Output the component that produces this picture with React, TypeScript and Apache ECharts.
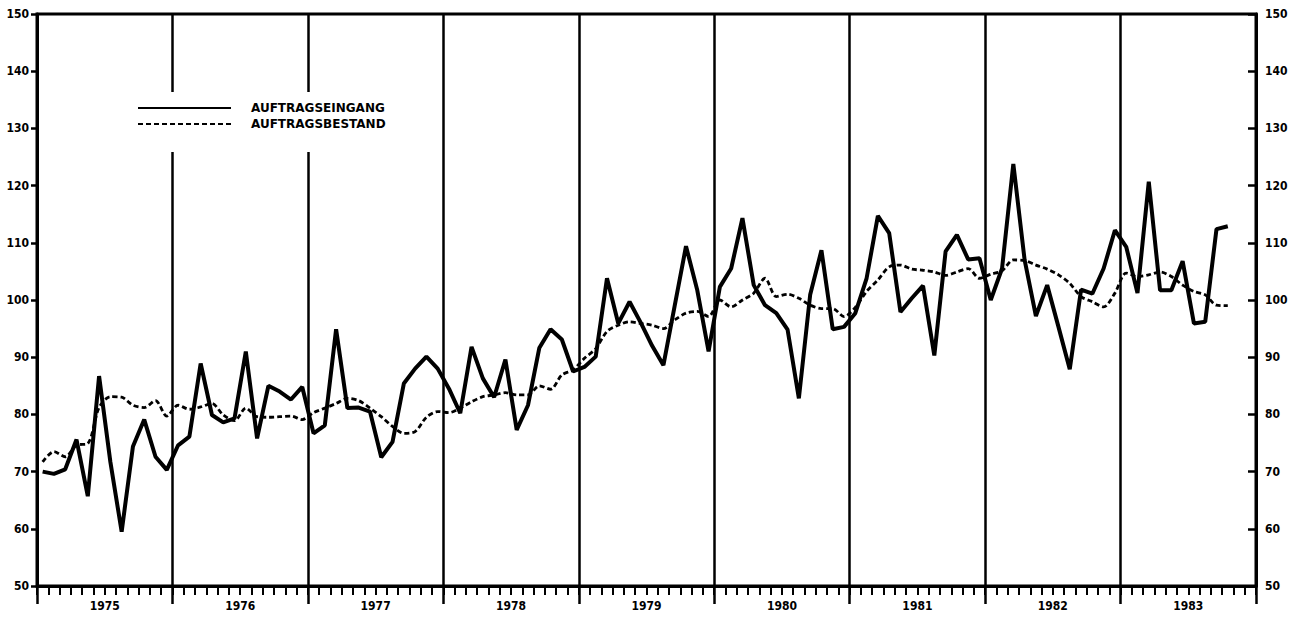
import { useEffect, useRef } from "react";
import * as echarts from "echarts";

const years = ["1975", "1976", "1977", "1978", "1979", "1980", "1981", "1982", "1983"];
const monthsPerYear = 12;
const yMin = 50;
const yMax = 150;
const yStep = 10;

// AUFTRAGSEINGANG (monthly, Jan 1975 – Oct 1983)
const auftragseingang = [
  70.0, 69.6, 70.4, 75.6, 65.7, 86.7, 71.7, 59.5, 74.4, 79.1, 72.6, 70.3,
  74.6, 76.1, 88.9, 79.9, 78.6, 79.3, 91.0, 75.8, 85.0, 84.0, 82.6, 84.8,
  76.7, 78.1, 94.9, 81.1, 81.2, 80.5, 72.5, 75.2, 85.4, 88.0, 90.1, 88.0,
  84.5, 80.2, 91.8, 86.3, 83.0, 89.6, 77.3, 81.6, 91.6, 94.9, 93.1, 87.5,
  88.3, 90.1, 103.8, 95.9, 99.7, 96.0, 92.0, 88.6, 99.0, 109.4, 101.7, 91.0,
  102.3, 105.5, 114.3, 102.6, 99.1, 97.7, 94.8, 82.8, 100.9, 108.7, 94.9, 95.3,
  97.7, 103.8, 114.7, 111.7, 97.9, 100.3, 102.5, 90.3, 108.5, 111.4, 107.1, 107.3,
  100.0, 105.5, 123.8, 107.0, 97.2, 102.6, 95.3, 87.9, 101.8, 101.1, 105.5, 112.2,
  109.3, 101.2, 120.7, 101.7, 101.7, 106.8, 95.9, 96.2, 112.4, 112.9,
];

// AUFTRAGSBESTAND (monthly, Jan 1975 – Oct 1983)
const auftragsbestand = [
  71.7, 73.5, 72.6, 74.6, 74.9, 81.2, 83.1, 83.0, 81.6, 81.2, 82.4, 79.7,
  81.6, 80.9, 81.3, 81.9, 79.9, 78.9, 81.1, 79.6, 79.5, 79.6, 79.7, 79.1,
  80.3, 81.1, 81.9, 82.8, 82.4, 81.1, 79.6, 77.9, 76.7, 77.0, 79.5, 80.5,
  80.3, 81.1, 82.2, 83.1, 83.4, 83.8, 83.4, 83.4, 85.0, 84.4, 86.9, 87.8,
  89.8, 91.5, 94.5, 95.6, 96.2, 95.9, 95.6, 95.0, 96.5, 97.7, 98.0, 97.1,
  100.0, 98.8, 100.0, 101.2, 103.8, 100.6, 101.0, 100.3, 99.1, 98.5, 98.5, 97.1,
  98.7, 101.5, 103.5, 105.8, 106.1, 105.4, 105.2, 104.9, 104.3, 104.9, 105.5, 103.8,
  104.5, 105.1, 107.0, 106.9, 106.1, 105.4, 104.4, 102.9, 100.6, 99.7, 98.8, 101.2,
  104.7, 104.1, 104.4, 104.9, 104.1, 102.6, 101.5, 100.9, 99.1, 99.0,
];

const seriesNames = ["AUFTRAGSEINGANG", "AUFTRAGSBESTAND"];

export default function App() {
  const ref = useRef<HTMLDivElement>(null);

  useEffect(() => {
    if (!ref.current) return;
    const chart = echarts.init(ref.current, null, { renderer: "svg" });
    const font = "DejaVu Sans Condensed";
    const toPoints = (arr: number[]) => arr.map((v, i) => [i + 0.5, v]);
    const labelStyle = {
      color: "#000",
      fontFamily: font,
      fontWeight: "bold" as const,
      fontSize: 12,
    };

    chart.setOption({
      animation: false,
      backgroundColor: "#fff",
      grid: {
        left: 37,
        right: 37,
        top: 14,
        bottom: 38,
        show: true,
        borderColor: "#000",
        borderWidth: 3,
        backgroundColor: "transparent",
      },
      legend: {
        orient: "vertical",
        left: 127,
        top: 92,
        padding: [10, 20, 22, 10],
        backgroundColor: "#fff",
        itemWidth: 93,
        itemHeight: 10,
        itemGap: 4,
        itemStyle: { opacity: 0 },
        textStyle: {
          color: "#000",
          fontFamily: "DejaVu Sans",
          fontWeight: "bold",
          fontSize: 12,
          padding: [0, 0, 0, 15],
        },
        data: seriesNames,
      },
      xAxis: [
        {
          type: "value",
          min: 0,
          max: years.length * monthsPerYear,
          interval: 1,
          position: "bottom",
          axisLine: { show: true, lineStyle: { color: "#000", width: 3 } },
          axisTick: { show: true, length: 9, lineStyle: { color: "#000", width: 2 } },
          axisLabel: { show: false },
          splitLine: { show: false },
        },
        {
          type: "category",
          data: years,
          boundaryGap: true,
          position: "bottom",
          axisLine: { show: false },
          axisTick: {
            show: true,
            length: 18,
            alignWithLabel: false,
            lineStyle: { color: "#000", width: 2.5 },
          },
          axisLabel: { ...labelStyle, margin: 14 },
          splitLine: { show: true, lineStyle: { color: "#000", width: 2.5 } },
        },
      ],
      yAxis: [
        {
          type: "value",
          min: yMin,
          max: yMax,
          interval: yStep,
          position: "left",
          axisLine: { show: true, lineStyle: { color: "#000", width: 3 } },
          axisTick: { show: true, inside: false, length: 6, lineStyle: { color: "#000", width: 2.5 } },
          axisLabel: { ...labelStyle, margin: 8 },
          splitLine: { show: false },
        },
        {
          type: "value",
          min: yMin,
          max: yMax,
          interval: yStep,
          position: "right",
          axisLine: { show: true, lineStyle: { color: "#000", width: 3 } },
          axisTick: { show: true, inside: true, length: 8, lineStyle: { color: "#000", width: 2.5 } },
          axisLabel: { ...labelStyle, margin: 9 },
          splitLine: { show: false },
        },
      ],
      series: [
        {
          name: seriesNames[0],
          type: "line",
          xAxisIndex: 0,
          yAxisIndex: 0,
          data: toPoints(auftragseingang),
          symbol: "none",
          itemStyle: { color: "#000" },
          lineStyle: { color: "#000", width: 4 },
          z: 3,
        },
        {
          name: seriesNames[1],
          type: "line",
          xAxisIndex: 0,
          yAxisIndex: 0,
          data: toPoints(auftragsbestand),
          symbol: "none",
          smooth: 0.3,
          itemStyle: { color: "#000" },
          lineStyle: { color: "#000", width: 2.8, type: [5, 3] },
          z: 2,
        },
      ],
    });

    return () => chart.dispose();
  }, []);

  return (
    <div
      ref={ref}
      style={{ position: "fixed", left: 0, top: 0, width: 1293, height: 624 }}
    />
  );
}
